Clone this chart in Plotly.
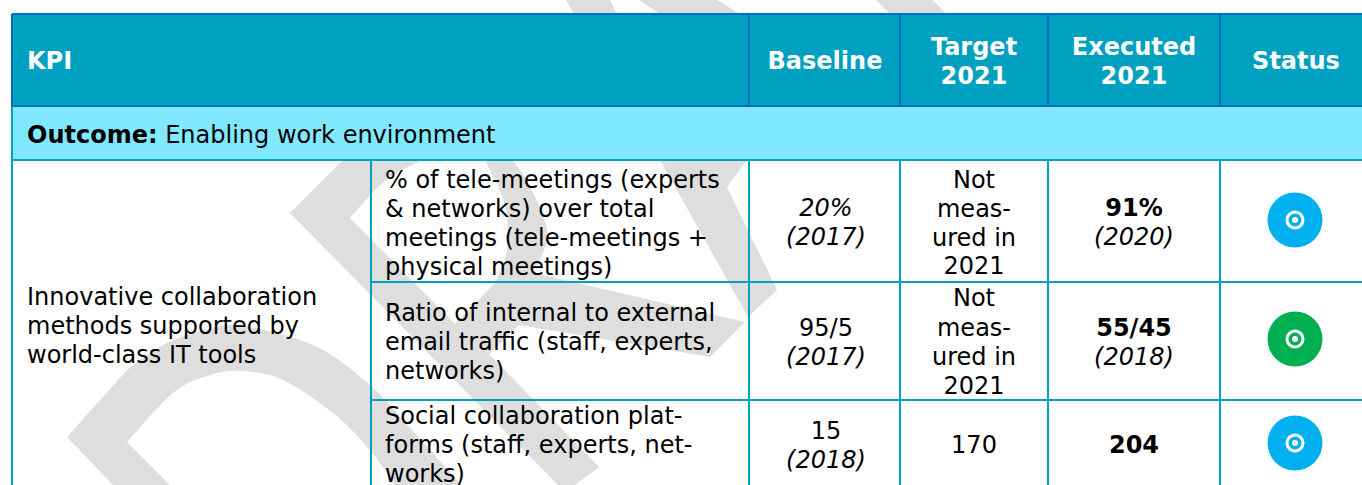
import plotly.graph_objects as go

W, H = 1362, 485
FONT = "DejaVu Sans"
SIZE = 24

HEADER_FILL = "#00A0C0"
HEADER_LINE = "#0070C0"
OUTCOME_FILL = "#80E9FF"
CELL_LINE = "#00A0C0"
WATERMARK = "#DEDEDE"
BLUE = "#00B0F0"
GREEN = "#00B050"

header_labels = ["KPI", "Baseline", "Target", "2021", "Executed", "2021", "Status"]
outcome_label = "<b>Outcome:</b> Enabling work environment"
group_lines = ["Innovative collaboration", "methods supported by", "world-class IT tools"]
kpi_lines = [
    "% of tele-meetings (experts", "& networks) over total", "meetings (tele-meetings +", "physical meetings)",
    "Ratio of internal to external", "email traffic (staff, experts,", "networks)",
    "Social collaboration plat-", "forms (staff, experts, net-", "works)",
]
baseline_lines = ["<i>20%</i>", "<i>(2017)</i>", "95/5", "<i>(2017)</i>", "15", "<i>(2018)</i>"]
target_lines = ["Not", "meas-", "ured in", "2021", "Not", "meas-", "ured in", "2021", "170"]
executed_lines = ["<b>91%</b>", "<i>(2020)</i>", "<b>55/45</b>", "<i>(2018)</i>", "<b>204</b>"]
status_colors = [BLUE, GREEN, BLUE]

# layout grid, in page pixels
left, col_kpi, col_base, col_tgt, col_exe, col_sta, right = 12, 371, 749, 900, 1048, 1220, 1363
top, head_bot, out_bot, row1, row2, bottom = 14, 106, 160, 282, 400, 486

# watermark outlines: each part is straight ("L") or a smooth curve ("C") through its points
watermark_parts = [
    [("L", [(67,437),(127,370)]),
     ("C", [(127,370),(167,343),(217,327),(250,327),(317,347),(370,385),(410,428),(462,485)]),
     ("L", [(462,485),(395,485)]),
     ("C", [(395,485),(370,450),(333,413),(283,380),(243,371),(210,375),(173,393),(127,442)]),
     ("L", [(127,442),(170,485),(113,485)])],
    [("L", [(290,213),(343,160),(422,160)]),
     ("C", [(422,160),(385,181),(350,218)]),
     ("L", [(350,218),(455,324),(495,283)]),
     ("C", [(495,283),(507,250),(505,205),(485,160)]),
     ("L", [(485,160),(513,160)]),
     ("C", [(513,160),(530,187),(547,230),(540,260),(530,272)]),
     ("L", [(530,272),(745,322),(710,357),(519,325),(489,354),(599,467),(575,485),(558,485)])],
    [("L", [(660,160),(747,160),(727,187),(777,290),(748,317)])],
    [("L", [(566,0),(610,0),(617,14),(574,14)])],
    [("L", [(639,0),(717,0),(740,14),(660,14)])],
    [("L", [(876,0),(933,0),(946,14),(890,14)])],
]

def curve_cmds(p):
    out = []
    for i in range(len(p) - 1):
        a = p[max(i - 1, 0)]; b = p[i]; c = p[i + 1]; d = p[min(i + 2, len(p) - 1)]
        c1 = (b[0] + (c[0] - a[0]) / 6, b[1] + (c[1] - a[1]) / 6)
        c2 = (c[0] - (d[0] - b[0]) / 6, c[1] - (d[1] - b[1]) / 6)
        out.append(f"C {c1[0]:.1f},{c1[1]:.1f} {c2[0]:.1f},{c2[1]:.1f} {c[0]},{c[1]}")
    return out

def path(parts):
    first = parts[0][1][0]
    cmds = [f"M {first[0]},{first[1]}"]
    for kind, pts in parts:
        if kind == "L":
            cmds += [f"L {x},{y}" for x, y in pts[1:]]
        else:
            cmds += curve_cmds(pts)
    return " ".join(cmds) + " Z"

shapes = [dict(type="path", path=path(p), fillcolor=WATERMARK, line_width=0, layer="below") for p in watermark_parts]

def rect(x0, y0, x1, y1, fill):
    return dict(type="rect", x0=x0, y0=y0, x1=x1, y1=y1, fillcolor=fill, line_width=0, layer="below")

def seg(x0, y0, x1, y1, color):
    return dict(type="line", x0=x0, y0=y0, x1=x1, y1=y1, line=dict(color=color, width=2), layer="below")

shapes += [rect(left, top, right, head_bot, HEADER_FILL), rect(left, head_bot, right, out_bot, OUTCOME_FILL)]
for x in (col_kpi, col_base, col_tgt, col_exe, col_sta):
    shapes.append(seg(x, out_bot, x, bottom, CELL_LINE))
shapes += [seg(col_kpi, row1, right, row1, CELL_LINE), seg(col_kpi, row2, right, row2, CELL_LINE),
           seg(left, out_bot, right, out_bot, CELL_LINE), seg(left, head_bot, left, bottom, CELL_LINE)]
shapes += [seg(left, top, right, top, HEADER_LINE), seg(left, head_bot, right, head_bot, HEADER_LINE),
           seg(left, top, left, head_bot, HEADER_LINE)]
for x in (col_base, col_tgt, col_exe, col_sta):
    shapes.append(seg(x, top, x, head_bot, HEADER_LINE))

fig = go.Figure()

def text_trace(labels, xs, ys, pos, color="black", size=SIZE):
    fig.add_trace(go.Scatter(x=xs, y=ys, text=labels, mode="text", textposition=pos,
                             textfont=dict(family=FONT, size=size, color=color),
                             hoverinfo="skip", showlegend=False, cliponaxis=False))

def bold(items):
    return [f"<b>{t}</b>" for t in items]

text_trace(bold(header_labels[:1]), [27], [63], "middle right", "white")
text_trace(bold(header_labels[1:]), [825, 974, 974, 1134, 1134, 1296], [63, 49, 78, 49, 78, 63], "middle center", "white")
text_trace([outcome_label], [27], [137], "middle right")
text_trace(group_lines, [27] * 3, [299, 328, 357], "middle right")
text_trace(kpi_lines, [385] * 10, [182, 211, 240, 269, 315, 344, 373, 418, 447, 476], "middle right")
text_trace(baseline_lines, [826] * 6, [210, 239, 330, 359, 433, 462], "middle center")
text_trace(target_lines, [974] * 9, [182, 211, 240, 268, 300, 330, 359, 388, 447], "middle center")
text_trace(executed_lines, [1134] * 5, [210, 239, 330, 359, 447], "middle center")

status_x = [1295] * 3
status_y = [220, 339, 443]
fig.add_trace(go.Scatter(x=status_x, y=status_y, mode="markers", hoverinfo="skip", showlegend=False,
                         marker=dict(size=55, color=status_colors, line_width=0)))
fig.add_trace(go.Scatter(x=status_x, y=status_y, mode="markers", hoverinfo="skip", showlegend=False,
                         marker=dict(size=16, color="rgba(0,0,0,0)", line=dict(color="white", width=3))))
fig.add_trace(go.Scatter(x=status_x, y=status_y, mode="markers", hoverinfo="skip", showlegend=False,
                         marker=dict(size=6, color="white", line_width=0)))

fig.update_layout(
    width=W, height=H, margin=dict(l=0, r=0, t=0, b=0), paper_bgcolor="white", plot_bgcolor="white",
    xaxis=dict(range=[0, W], visible=False, fixedrange=True),
    yaxis=dict(range=[H, 0], visible=False, fixedrange=True),
    shapes=shapes,
)
fig.write_html("out.html", config=dict(displayModeBar=False),
               post_script="document.body.style.margin='0';document.body.style.overflow='hidden';")
